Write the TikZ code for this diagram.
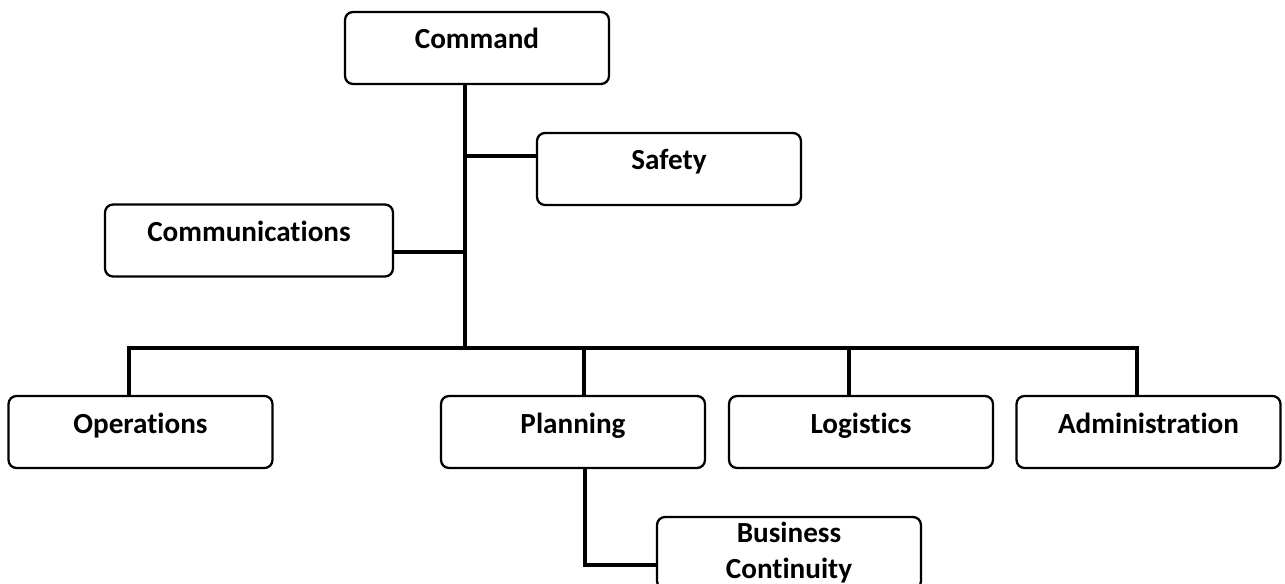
\documentclass[tikz,border=0pt]{standalone}
\usepackage{fontspec}
\setmainfont[Ligatures=NoCommon]{Carlito}
\usetikzlibrary{positioning}

\tikzset{every picture/.style={x=0.02cm, y=-0.02cm, line width=2pt}}
\tikzset{org box/.style={draw, line width=1.3pt, rounded corners=0.16cm, minimum width=5.28cm, minimum height=1.44cm, inner sep=0pt, align=center, font=\bfseries\fontsize{16.6}{20.5}\selectfont}}
\tikzset{unit/.style={org box, text height=0.74cm, text depth=0.70cm}}

\begin{document}
\begin{tikzpicture}
        \useasboundingbox (0,0) rectangle (1285,584);
        \node[unit] (command) at (477,48) {Command};
        \node[unit] (safety) at (669,169) {Safety};
        \node[unit, minimum width=5.76cm] (comms) at (249,240.5) {Communications};
        \node[unit] (operations) at (140.5,432) {Operations};
        \node[unit] (planning) at (573,432) {Planning};
        \node[unit] (logistics) at (861,432) {Logistics};
        \node[unit] (admin) at (1148.5,432) {Administration};
        \node[org box] (continuity) at (789,553) {Business\\Continuity};

        \coordinate (bus) at (465,348);
        \coordinate (safety joint) at (465,156);
        \coordinate (comms joint) at (465,252);
        \coordinate (continuity joint) at (585,565);
        \coordinate (operations top) at (129,348);
        \coordinate (planning top) at (584,348);
        \coordinate (logistics top) at (849,348);
        \coordinate (admin top) at (1137,348);

        \draw (command.south -| bus) -- (bus);
        \draw (safety joint) -- (safety joint -| safety.west);
        \draw (comms joint) -- (comms joint -| comms.east);
        \draw (operations top |- operations.north) -- (operations top) -- (admin top) -- (admin top |- admin.north);
        \draw (planning top) -- (planning top |- planning.north);
        \draw (logistics top) -- (logistics top |- logistics.north);
        \draw (planning.south -| continuity joint) -- (continuity joint) -- (continuity joint -| continuity.west);
    \end{tikzpicture}
\end{document}
